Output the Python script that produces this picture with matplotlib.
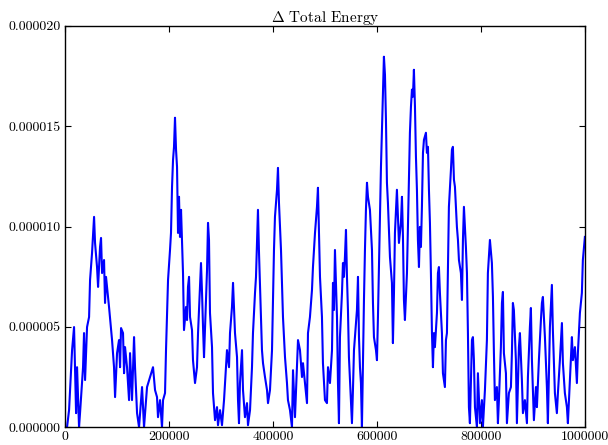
import numpy as np
import matplotlib
matplotlib.use("Agg")
import matplotlib.pyplot as plt
from matplotlib.ticker import FormatStrFormatter, MultipleLocator

plt.rcParams['font.family'] = 'serif'
plt.rcParams['font.serif'] = ['cmr10']
plt.rcParams['mathtext.fontset'] = 'cm'
plt.rcParams['axes.formatter.use_mathtext'] = True

# step number
steps = [
    0, 3800, 7700, 13500, 17300, 21200, 23100, 26900, 28800, 34600,
    36500, 38500, 42300, 46200, 48100, 51900, 55800, 57700, 61500, 63500,
    67300, 69200, 71200, 75000, 76900, 78800, 84600, 90400, 94200, 96200,
    100000, 103800, 105800, 107700, 111500, 113500, 115400, 119200, 123100, 125000,
    128800, 132700, 134600, 138500, 142300, 148100, 151900, 157700, 163500,
    169200, 173100, 176900, 178800, 182700, 186500, 188500, 192300, 194200, 196100,
    198100, 201900, 203800, 205800, 207700, 209600, 211500, 213500, 215400, 217300,
    219200, 221100, 223100, 225000, 226900, 228800, 232700, 234600, 236500, 238500,
    240400, 244200, 246100, 250000, 253800, 255800, 259600, 261500, 263500, 265400,
    267300, 271100, 273100, 275000, 276900, 278800, 282700, 284600, 288500, 292300,
    294200, 298100, 301900, 305800, 309600, 311500, 315400, 317300, 321100, 323100,
    326900,
    330800, 332700, 334600, 336500, 340400, 342300, 346100, 350000, 351900, 355800,
    359600, 361500, 365400, 367300, 369200, 371100, 373100, 376900, 378800, 380800,
    384600, 388500, 390400, 394200, 398100, 400000, 401900, 403800, 407700, 409600,
    411500, 415400, 417300, 419200, 423100, 426900, 428800, 432700, 436500, 438500,
    442300, 446100, 448100, 451900, 455800, 457700, 461500, 465400, 467300, 471100,
    475000, 476900, 480800, 484600, 486500, 488500, 490400,
    494200, 496100, 498100, 500000, 503800, 505800, 509600, 513500, 515400, 517300,
    519200, 521100, 523100, 525000, 526900, 528800, 532700, 534600, 536500, 538400,
    540400, 542300, 544200, 546100, 550000, 551900, 553800, 555800, 557700, 561500,
    563500, 565400, 567300, 569200, 571100, 573100, 575000, 576900, 578800, 580800,
    582700, 586500, 590400, 592300, 594200, 598100, 600000, 601900, 603800, 605800,
    607700, 609600, 611500, 613400, 615400, 617300, 619200, 621100, 625000, 628800,
    630700, 632700, 634600, 638400, 640400, 642300, 646100, 648100, 650000, 651900,
    653800, 657700, 659600, 661500, 663400, 665400, 667300, 669200, 671100, 673100,
    675000, 676900, 678800, 680800, 682700, 684600, 686500, 688500, 690400, 694200,
    696100, 698100, 700000, 701900, 703800, 705800, 707700, 709600, 711500, 715400,
    717300, 719200, 721100, 725000, 726900, 730700, 732700, 734600, 736500, 738400,
    742300, 744200, 746100, 748100, 750000, 751900, 753800, 755800, 757700, 761500,
    763500, 765400, 767300, 771100, 773100, 775000, 776900, 778800, 782700, 784600,
    786500, 788500, 792300, 794200, 798100, 801900, 803800, 807700, 811500, 813400,
    817300, 821100, 823100, 825000, 826900, 830700, 832700, 834600, 838400, 840400,
    842300, 844200, 848100, 850000, 853800, 857700, 859600, 861500, 863400, 867300,
    869200, 873100, 875000, 878800, 880800, 884600, 888500, 890400, 894200, 896100,
    898100, 901900, 905800, 907700, 911500, 915400, 917300, 919200, 923100, 926900,
    928800, 932700, 936500, 938400, 942300, 946100, 948100, 951900, 955800, 957700,
    961500, 965400, 967300, 971100, 975000, 976900, 980800, 984600, 986500, 990400,
    994200, 996100, 1000000,
]

# delta total energy, in units of 1e-6
d_energy = [
    0, 0, 0.85, 3.84, 4.99, 0.70, 2.99, 0, 0.70, 2.99,
    4.69, 2.35, 4.99, 5.49, 7.34, 8.68, 10.48, 9.18, 7.98, 6.99,
    8.98, 9.43, 7.68, 8.33, 6.19, 7.49, 5.99, 4.34, 2.99, 1.50,
    3.69, 4.34, 2.99, 4.94, 4.69, 2.69, 3.99, 2.99, 1.35, 3.69,
    1.35, 4.49, 2.99, 0.70, 0, 2.00, 0, 2.00, 2.50,
    2.99, 1.85, 1.50, 0.50, 1.35, 0, 1.35, 1.70, 3.84, 5.49,
    7.34, 8.83, 9.68, 11.98, 13.32, 13.97, 15.42, 13.82, 12.97, 9.68,
    11.48, 9.48, 10.83, 9.33, 7.68, 4.84, 5.99, 5.34, 6.99, 7.49,
    5.49, 4.84, 3.34, 2.20, 2.99, 4.69, 6.99, 8.18, 6.69, 4.99,
    3.49, 6.34, 7.83, 10.18, 9.33, 5.69, 3.99, 1.70, 0.35, 1.00,
    0.10, 0.85, 0.10, 1.35, 2.99, 3.84, 2.99, 4.69, 5.99, 7.19,
    4.69,
    3.49, 1.35, 0.20, 2.20, 3.84, 1.85, 0.50, 1.20, 0.10, 0.85,
    2.99, 4.69, 6.69, 7.49, 9.18, 10.83, 8.68, 5.49, 3.84, 3.19,
    2.50, 1.85, 1.20, 1.85, 3.84, 6.34, 8.83, 10.48, 11.83, 12.92,
    11.18, 8.83, 7.19, 5.49, 3.49, 2.20, 1.35, 0.85, 0, 2.84,
    0.50, 2.99, 4.34, 3.84, 2.50, 3.19, 2.20, 1.20, 4.69, 5.49,
    6.84, 7.98, 9.68, 10.98, 11.93, 9.68, 7.49,
    5.49, 3.19, 2.20, 1.35, 1.20, 2.99, 2.20, 3.84, 7.19, 5.84,
    8.83, 7.19, 5.49, 2.20, 0.20, 4.49, 6.69, 8.18, 7.49, 8.48,
    9.83, 7.49, 5.84, 3.49, 1.20, 0.20, 1.85, 3.84, 4.49, 5.84,
    7.49, 4.49, 2.99, 2.20, 0, 3.19, 6.34, 8.83, 10.83, 12.18,
    11.48, 10.83, 8.83, 6.19, 4.49, 3.84, 3.34, 5.49, 7.98, 10.48,
    12.97, 14.82, 16.82, 18.46, 17.56, 15.32, 12.18, 11.18, 8.48, 7.19,
    4.19, 6.69, 9.68, 11.83, 10.48, 9.18, 10.18, 11.48, 9.48, 6.34,
    5.34, 7.68, 9.98, 12.18, 14.67, 15.97, 16.82, 16.47, 17.81, 15.97,
    13.47, 11.83, 9.33, 7.98, 9.98, 8.98, 10.98, 13.67, 14.32, 14.67,
    13.67, 13.97, 11.83, 10.18, 7.68, 4.69, 2.99, 4.69, 3.99, 5.69,
    7.68, 7.98, 6.69, 4.69, 2.69, 2.00, 4.34, 4.69, 7.68, 10.98,
    12.82, 13.82, 13.97, 12.33, 11.98, 10.98, 9.98, 9.33, 8.33, 7.68,
    6.34, 9.33, 10.98, 8.98, 7.68, 4.69, 1.00, 0.20, 4.34, 4.49,
    3.34, 1.00, 0, 2.69, 0.20, 1.35, 0, 1.85, 4.34, 7.68,
    9.33, 8.18, 6.49, 3.69, 1.35, 2.00, 0.20, 1.35, 3.99, 6.19,
    6.74, 3.69, 2.69, 0.20, 1.70, 2.00, 3.69, 6.19, 5.84, 3.34,
    0.20, 3.99, 4.69, 2.35, 0.70, 1.35, 0.20, 2.50, 4.99, 5.94,
    3.34, 0.35, 2.00, 1.00, 3.34, 5.34, 6.19, 6.49, 4.49, 2.00,
    0.20, 4.99, 7.09, 4.84, 1.70, 0.70, 1.70, 3.34, 5.19, 3.19,
    1.70, 1.00, 0.20, 2.35, 4.49, 3.34, 3.99, 2.20, 3.69, 5.69,
    6.69, 8.33, 9.48,
]

x = np.array(steps)
y = np.array(d_energy) * 1e-6

fig = plt.figure(figsize=(6.08, 4.45), dpi=100)
ax = fig.add_axes([0.107, 0.040, 0.855, 0.902])
ax.plot(x, y, color='b', lw=1.5)

ax.set_xlim(0, 1000000)
ax.set_ylim(0, 0.000020)
ax.xaxis.set_major_locator(MultipleLocator(200000))
ax.xaxis.set_major_formatter(FormatStrFormatter('%d'))
ax.yaxis.set_major_locator(MultipleLocator(0.000005))
ax.yaxis.set_major_formatter(FormatStrFormatter('%.6f'))
ax.tick_params(direction='in', top=True, right=True, length=4, width=0.8, labelsize=10, pad=3)
for s in ax.spines.values():
    s.set_linewidth(1.0)
ax.set_title(r'$\Delta$ Total Energy', fontsize=11, pad=3)

fig.savefig('out.png', dpi=100)
